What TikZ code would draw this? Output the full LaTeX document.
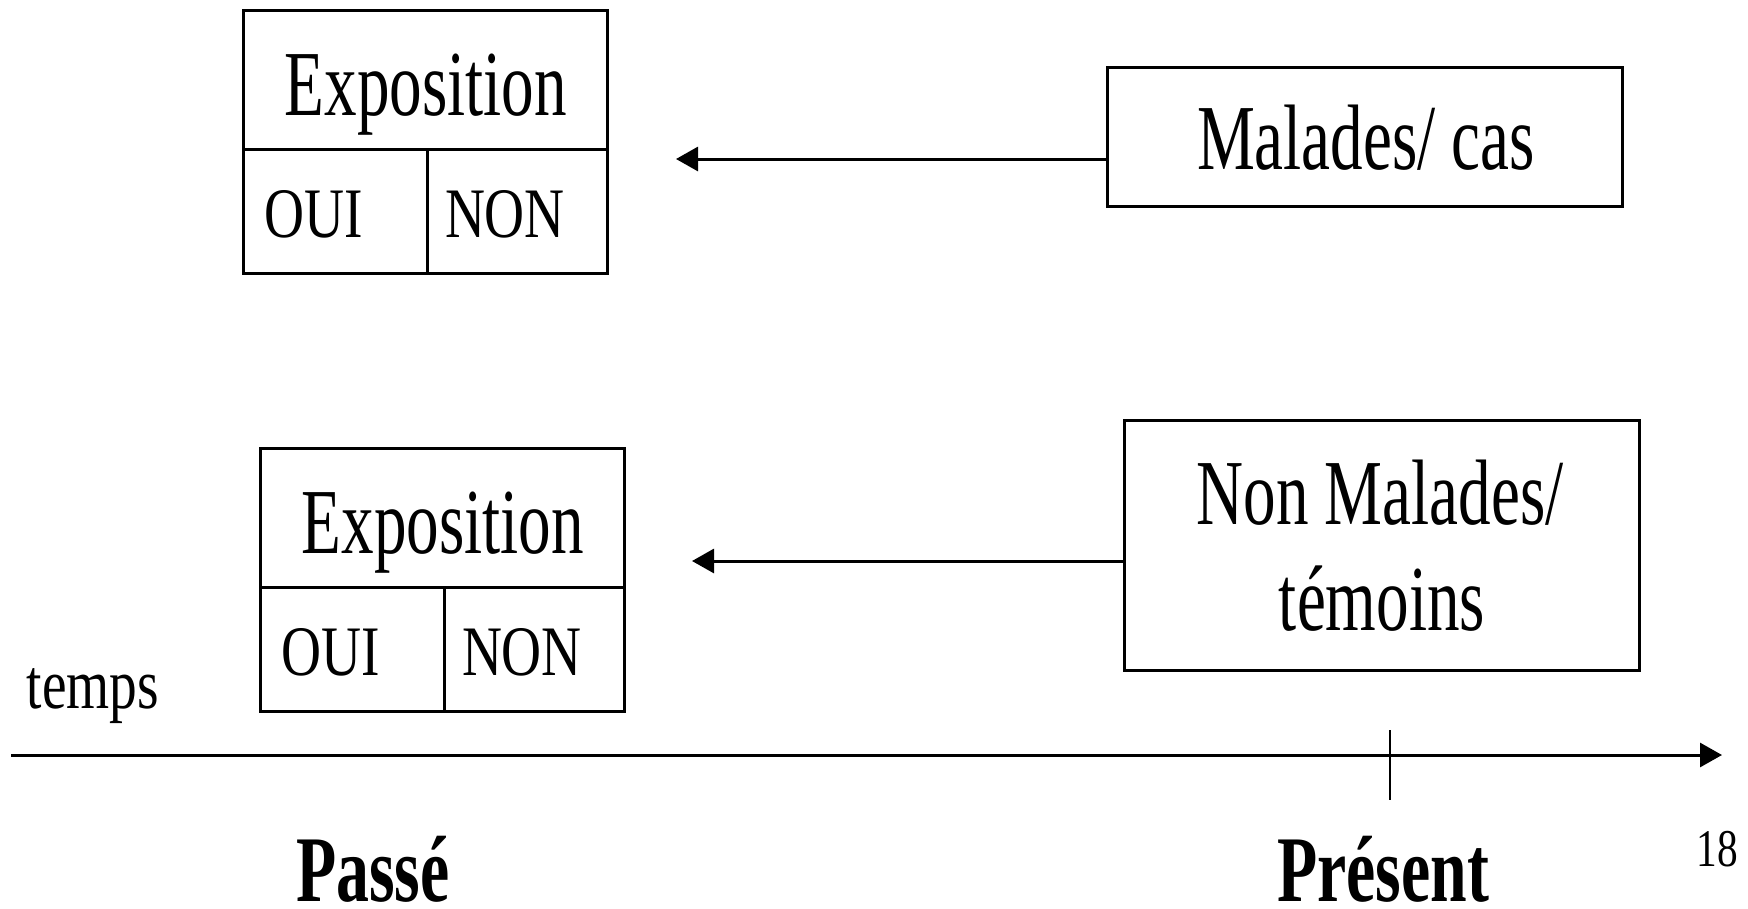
\documentclass[tikz,border=0pt]{standalone}
\usepackage{fontspec}
\setmainfont[FakeStretch=0.7]{Liberation Serif}
\newfontfamily\narrowfont[FakeStretch=0.78]{Liberation Serif}
\usetikzlibrary{arrows.meta}
\tikzset{
  box/.style={draw, line width=3pt, inner sep=0pt},
  bigtxt/.style={inner sep=0pt, anchor=base, font=\fontsize{93}{100}\selectfont},
  midtxt/.style={inner sep=0pt, anchor=base, font=\narrowfont\fontsize{71}{80}\selectfont},
  boldtxt/.style={inner sep=0pt, anchor=base, font=\bfseries\fontsize{94}{100}\selectfont},
  arr/.style={line width=3pt, -{Triangle[length=22pt,width=24pt]}},
  ln/.style={line width=3pt}
}
\begin{document}
\begin{tikzpicture}[x=1pt,y=-1pt]
\fill[white] (0,0) rectangle (1748,908);
\useasboundingbox (0,0) rectangle (1748,908);
% top exposition box
\node[box, minimum width=364pt, minimum height=263pt] (exp1) at (425,141.5) {};
\coordinate (d1l) at (243,149);
\coordinate (d1r) at (607,149);
\coordinate (v1t) at (427,149);
\draw[ln] (d1l) -- (d1r);
\draw[ln] (v1t) -- (v1t |- exp1.south);
\node[bigtxt] (exp1t) at (426,115) {Exposition};
\node[midtxt] (oui1) at (314,237) {OUI};
\node[midtxt] (non1) at (505,237) {NON};
% bottom exposition box
\node[box, minimum width=364pt, minimum height=263pt] (exp2) at (442,579.5) {};
\coordinate (d2l) at (260,587);
\coordinate (d2r) at (624,587);
\coordinate (v2t) at (444,587);
\draw[ln] (d2l) -- (d2r);
\draw[ln] (v2t) -- (v2t |- exp2.south);
\node[bigtxt] (exp2t) at (443,553) {Exposition};
\node[midtxt] (oui2) at (331,675) {OUI};
\node[midtxt] (non2) at (522,675) {NON};
% malades
\node[box, minimum width=515pt, minimum height=139pt] (mal) at (1364.5,136.5) {};
\node[bigtxt] (malt) at (1366,169) {Malades/ cas};
% non malades
\node[box, minimum width=515pt, minimum height=250pt] (nmal) at (1381.5,545) {};
\node[bigtxt] (nmalt1) at (1380,524) {Non Malades/};
\node[bigtxt] (nmalt2) at (1382,630) {témoins};
% arrows
\coordinate (a1e) at (676,159);
\coordinate (a2e) at (692,561);
\draw[arr] (mal.west |- a1e) -- (a1e);
\draw[arr] (nmal.west |- a2e) -- (a2e);
% timeline
\coordinate (t0) at (11,755);
\coordinate (t1) at (1722,755);
\draw[arr] (t0) -- (t1);
\coordinate (tk0) at (1390,730);
\coordinate (tk1) at (1390,800);
\draw[line width=2pt] (tk0) -- (tk1);
\node[midtxt] (temps) at (93,708) {temps};
\node[boldtxt] (passe) at (373,901) {Passé};
\node[boldtxt] (present) at (1383,901) {Présent};
\node[inner sep=0pt, anchor=base, font=\narrowfont\fontsize{53}{60}\selectfont] (num) at (1717,866) {18};
\end{tikzpicture}
\end{document}
